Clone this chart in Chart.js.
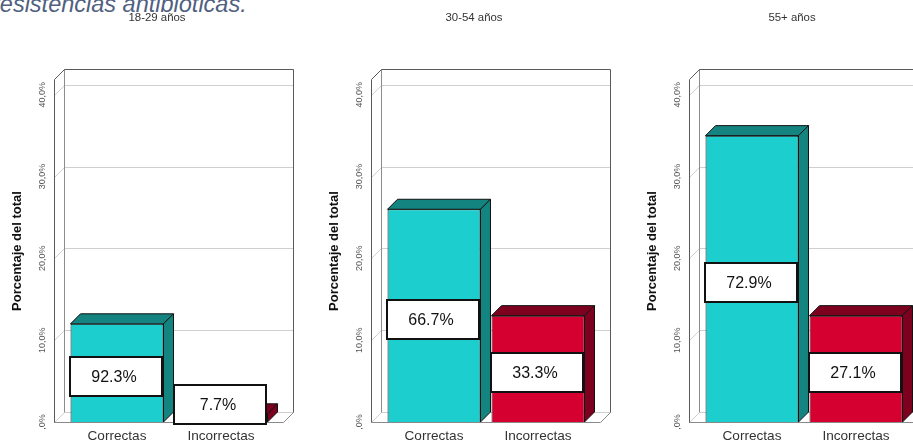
<!DOCTYPE html>
<html lang="es">
<head>
<meta charset="utf-8">
<title>Respuestas por grupo de edad</title>
<script src="https://cdn.jsdelivr.net/npm/chart.js@4.4.1/dist/chart.umd.min.js"></script>
<style>
  html, body { margin: 0; padding: 0; background: #fff; }
  body { width: 913px; height: 443px; position: relative; overflow: hidden; }
  .encabezado {
    position: absolute; left: -8px; top: -7.5px; margin: 0;
    font: italic 23.5px/23.5px "Liberation Sans", Arial, sans-serif;
    color: #50607f; white-space: nowrap;
  }
  canvas { position: absolute; top: 0; }
</style>
</head>
<body>
<p class="encabezado">resistencias antibióticas.</p>
<canvas id="panel0" width="317" height="443" style="left:0px"></canvas>
<canvas id="panel1" width="317" height="443" style="left:317px"></canvas>
<canvas id="panel2" width="317" height="443" style="left:635px"></canvas>

<script>
// casos por grupo de edad (n total = 100)
const grupos = ['18-29 años', '30-54 años', '55+ años'];
const categorias = ['Correctas', 'Incorrectas'];
const nCorrectas = [12, 26, 35];
const nIncorrectas = [1, 13, 13];
const yTicks = [0, 10, 20, 30, 40];
const yMax = 41.8;

const colores = ['#1ccece', '#d5002f'];
const coloresOscuros = ['#138480', '#7e001f'];
const fuente = '"Liberation Sans", Arial, sans-serif';

const totalCasos = nCorrectas.concat(nIncorrectas).reduce((a, b) => a + b, 0);

// profundidad del efecto 3D
const DX = 10, DY = -10;

function fmtTick(v) {
    return v === 0 ? ',0%' : v.toFixed(1).replace('.', ',') + '%';
}

function line(ctx, pts, color, close) {
    ctx.beginPath();
    ctx.moveTo(pts[0][0], pts[0][1]);
    for (let i = 1; i < pts.length; i++) ctx.lineTo(pts[i][0], pts[i][1]);
    if (close) ctx.closePath();
    ctx.strokeStyle = color;
    ctx.stroke();
}

function poly(ctx, pts, fill) {
    ctx.beginPath();
    ctx.moveTo(pts[0][0], pts[0][1]);
    for (let i = 1; i < pts.length; i++) ctx.lineTo(pts[i][0], pts[i][1]);
    ctx.closePath();
    ctx.fillStyle = fill;
    ctx.fill();
    ctx.lineWidth = 1;
    ctx.strokeStyle = '#111';
    ctx.stroke();
}

const caja3d = {
    id: 'caja3d',
    beforeDatasetsDraw(chart) {
        const { ctx, chartArea, scales } = chart;
        const y = scales.y, x = scales.x;
        const fx0 = chartArea.left - 11;
        const fx1 = chartArea.right + 10;
        const yb = y.getPixelForValue(0);
        const yt = chartArea.top - 1;
        const bx0 = fx0 + DX, bx1 = fx1 + DX;

        ctx.save();
        ctx.lineWidth = 1;
        ctx.translate(0.5, 0.5);

        // rejilla: diagonal en la pared izquierda y horizontal en el fondo
        yTicks.forEach(v => {
            const py = Math.round(y.getPixelForValue(v));
            line(ctx, [[fx0, py], [bx0, py + DY], [bx1, py + DY]], '#cfcfcf');
        });

        // suelo
        line(ctx, [[fx0, yb], [fx1, yb], [bx1, yb + DY]], '#8a8a8a');
        // pared del fondo y pared izquierda
        line(ctx, [[bx0, yb + DY], [bx0, yt + DY]], '#8c8c8c');
        line(ctx, [[fx0, yb], [fx0, yt], [bx0, yt + DY], [bx1, yt + DY], [bx1, yb + DY]], '#5a5a5a');
        ctx.restore();

        // etiquetas del eje Y, giradas
        ctx.save();
        ctx.fillStyle = '#555';
        ctx.font = '9px ' + fuente;
        ctx.textAlign = 'center';
        ctx.textBaseline = 'middle';
        yTicks.forEach(v => {
            ctx.save();
            ctx.translate(fx0 - 11, y.getPixelForValue(v));
            ctx.rotate(-Math.PI / 2);
            ctx.fillText(fmtTick(v), 0, 0);
            ctx.restore();
        });

        // título del eje Y
        ctx.save();
        ctx.translate(fx0 - 37, (chartArea.top + chartArea.bottom) / 2);
        ctx.rotate(-Math.PI / 2);
        ctx.fillStyle = '#111';
        ctx.font = 'bold 13px ' + fuente;
        ctx.fillText('Porcentaje del total', 0, 0);
        ctx.restore();

        // categorías del eje X
        ctx.fillStyle = '#333';
        ctx.font = '13.6px ' + fuente;
        ctx.textBaseline = 'alphabetic';
        chart.data.labels.forEach((lab, i) => {
            ctx.fillText(lab, x.getPixelForValue(i), 440);
        });

        // título del panel
        ctx.font = '11.4px ' + fuente;
        ctx.fillStyle = '#333';
        ctx.fillText(chart.options.plugins.caja3d.titulo, fx0 + 103, 21);
        ctx.restore();
    },
    afterDatasetsDraw(chart) {
        const { ctx } = chart;
        const meta = chart.getDatasetMeta(0);
        const etiquetas = chart.options.plugins.caja3d.etiquetas;
        ctx.save();
        meta.data.forEach((bar, i) => {
            const { x, y, base, width } = bar.getProps(['x', 'y', 'base', 'width'], true);
            const L = x - width / 2, R = x + width / 2;
            // cara superior y cara lateral
            poly(ctx, [[L, y], [R, y], [R + DX, y + DY], [L + DX, y + DY]], coloresOscuros[i]);
            poly(ctx, [[R, y], [R + DX, y + DY], [R + DX, base + DY], [R, base]], coloresOscuros[i]);
        });

        // recuadros con el porcentaje dentro del grupo
        meta.data.forEach((bar, i) => {
            const { x, y, base } = bar.getProps(['x', 'y', 'base'], true);
            const w = 92, h = 39;
            let cy = (y + base) / 2 + 4;
            if (cy + h / 2 > base + 2) cy = base + 2 - h / 2;
            const bx = Math.round(x - 1 - w / 2), by = Math.round(cy - h / 2);
            ctx.fillStyle = '#fff';
            ctx.fillRect(bx, by, w, h);
            ctx.lineWidth = 2;
            ctx.strokeStyle = '#111';
            ctx.strokeRect(bx, by, w, h);
            ctx.fillStyle = '#111';
            ctx.font = '16px ' + fuente;
            ctx.textAlign = 'center';
            ctx.textBaseline = 'middle';
            ctx.fillText(etiquetas[i], bx + w / 2 - 2, by + h / 2 + 1);
        });
        ctx.restore();
    }
};

grupos.forEach((grupo, g) => {
    const nGrupo = nCorrectas[g] + nIncorrectas[g];
    const casos = [nCorrectas[g], nIncorrectas[g]];
    const pctTotal = casos.map(n => n / totalCasos * 100);
    const etiquetas = casos.map(n => (n / nGrupo * 100).toFixed(1) + '%');

    new Chart(document.getElementById('panel' + g), {
        type: 'bar',
        data: {
            labels: categorias,
            datasets: [{
                data: pctTotal,
                backgroundColor: colores,
                borderColor: '#111',
                borderWidth: 1,
                barPercentage: 0.894,
                categoryPercentage: 1
            }]
        },
        options: {
            responsive: false,
            animation: false,
            devicePixelRatio: 1,
            layout: { padding: { left: 65, right: 44, top: 80, bottom: 21 } },
            scales: {
                x: { display: false },
                y: { display: false, min: 0, max: yMax }
            },
            plugins: {
                legend: { display: false },
                tooltip: { enabled: false },
                caja3d: { titulo: grupo, etiquetas: etiquetas }
            }
        },
        plugins: [caja3d]
    });
});
</script>
</body>
</html>
